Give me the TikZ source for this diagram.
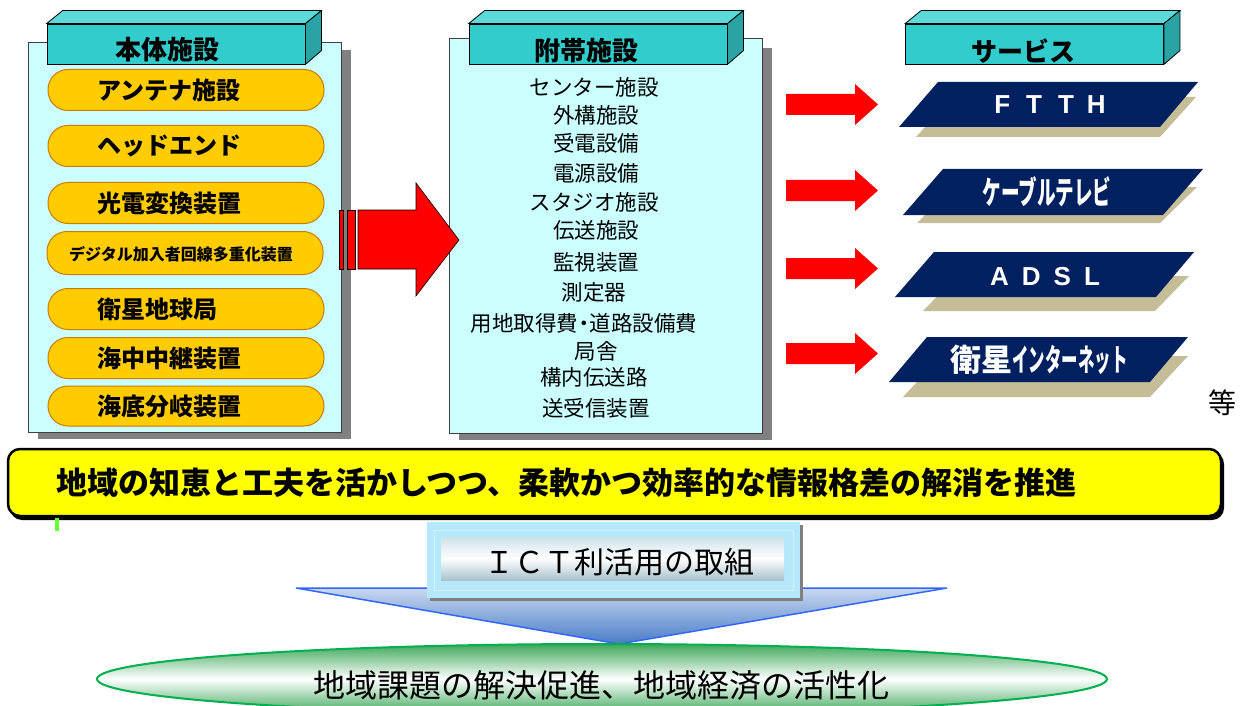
\documentclass[tikz,border=0pt]{standalone}
\usepackage{fontspec}
\usepackage{graphicx}
\setmainfont{Noto Sans CJK JP}
\newfontfamily\lat{Liberation Sans}
\usetikzlibrary{shapes.geometric,calc}
\definecolor{panelbg}{HTML}{CCFFFF}
\definecolor{panelline}{HTML}{404040}
\definecolor{shadowgray}{HTML}{808080}
\definecolor{hdrfrontc}{HTML}{33CCCC}
\definecolor{hdrtopc}{HTML}{5CD9D9}
\definecolor{hdrsidec}{HTML}{29A3A3}
\definecolor{pillfill}{HTML}{FFCC00}
\definecolor{pillline}{HTML}{CC7A00}
\definecolor{navy}{HTML}{002060}
\definecolor{tan}{HTML}{C4BD97}
\definecolor{arrowred}{HTML}{FF0000}
\definecolor{banneryellow}{HTML}{FFFF00}
\definecolor{ictouter}{HTML}{B4E8FA}
\definecolor{ictframe}{HTML}{D2F2FD}
\definecolor{icttop}{HTML}{CFE2EA}
\definecolor{ictbot}{HTML}{A8C2CC}
\definecolor{tritop}{HTML}{C8D8F0}
\definecolor{tribot}{HTML}{4A7CC8}
\definecolor{triline}{HTML}{3366FF}
\definecolor{ellgreen}{HTML}{3FA85A}
\definecolor{ellline}{HTML}{00B050}
\definecolor{markgreen}{HTML}{66FF33}
\newcommand\smallredarrow[1]{%
  \fill[arrowred] (786,#1-10.5) -- (855,#1-10.5) -- (855,#1-20.5) -- (878,#1)
    -- (855,#1+20.5) -- (855,#1+10.5) -- (786,#1+10.5) -- cycle;}
\newcommand\hdrbox[2]{%
  \node[hdrfront] (#1) at (#2,44) {};
  \filldraw[fill=hdrtopc,draw=black,line width=0.8] (#1.north west) -- ++(16,-13)
    -- ($(#1.north east)+(16,-13)$) -- (#1.north east) -- cycle;
  \filldraw[fill=hdrsidec,draw=black,line width=0.8] (#1.north east) -- ++(16,-13)
    -- ++(0,40) -- (#1.south east) -- cycle;}
\begin{document}
\begin{tikzpicture}[x=1pt,y=-1pt,
  panel/.style={draw=panelline, fill=panelbg, line width=0.8, anchor=north west, inner sep=0},
  hdrfront/.style={draw=black, fill=hdrfrontc, line width=0.8, minimum width=258, minimum height=40, inner sep=0},
  hdrtxt/.style={font=\fontsize{26}{26}\selectfont\bfseries},
  pill/.style={draw=pillline, fill=pillfill, rounded corners=20, minimum width=276, minimum height=41, line width=1, inner sep=0},
  pilltxt/.style={anchor=west, inner sep=0, font=\fontsize{24}{24}\selectfont\bfseries},
  listtxt/.style={inner sep=0, font=\fontsize{21.5}{21.5}\selectfont},
  svctxt/.style={inner sep=0, text=white, font=\fontsize{26}{26}\selectfont\bfseries}
]
\useasboundingbox (0,0) rectangle (1248,706);
\fill[white] (0,0) rectangle (1248,706);

% ---------- left panel ----------
\fill[shadowgray] (38,50) rectangle (351,439);
\node[panel, minimum width=313, minimum height=390] (p1) at (28,42) {};
\hdrbox{h1}{176}
\node[hdrtxt] (h1t) at (167,50) {本体施設};

\node[pill] (a1) at (186,90) {};
\node[pilltxt] (a1t) at (97,90) {アンテナ施設};
\node[pill] (a2) at (186,146) {};
\node[pilltxt] (a2t) at (97,146) {ヘッドエンド};
\node[pill] (a3) at (186,203) {};
\node[pilltxt] (a3t) at (97,203) {光電変換装置};
\node[pill, minimum height=43] (a4) at (185,253) {};
\node[inner sep=0, font=\fontsize{16}{16}\selectfont\bfseries] (a4t) at (181,254) {デジタル加入者回線多重化装置};
\node[pill] (a5) at (186,309) {};
\node[pilltxt] (a5t) at (97,309) {衛星地球局};
\node[pill] (a6) at (186,358) {};
\node[pilltxt] (a6t) at (97,358) {海中中継装置};
\node[pill, minimum height=40] (a7) at (186,406) {};
\node[pilltxt] (a7t) at (97,406) {海底分岐装置};

% ---------- middle panel ----------
\fill[shadowgray] (459,48) rectangle (772,440);
\node[panel, minimum width=313, minimum height=395] (p2) at (449,38) {};
\hdrbox{h2}{598}
\node[hdrtxt] (h2t) at (586,51) {附帯施設};

\node[listtxt] (b1) at (594,87) {センター施設};
\node[listtxt] (b2) at (596,115) {外構施設};
\node[listtxt] (b3) at (596,143) {受電設備};
\node[listtxt] (b4) at (596,173) {電源設備};
\node[listtxt] (b5) at (594,202) {スタジオ施設};
\node[listtxt] (b6) at (596,230) {伝送施設};
\node[listtxt] (b7) at (596,262) {監視装置};
\node[listtxt] (b8) at (594,292) {測定器};
\node[listtxt] (b9) at (584,323) {用地取得費\hspace{-5pt}・\hspace{-5pt}道路設備費};
\node[listtxt] (b10) at (596,351) {局舎};
\node[listtxt] (b11) at (594,377) {構内伝送路};
\node[listtxt] (b12) at (596,408) {送受信装置};

% ---------- big arrow ----------
\filldraw[fill=arrowred, draw=black, line width=0.6] (339,210) rectangle (343,269);
\filldraw[fill=arrowred, draw=black, line width=0.6] (347,210) rectangle (355,269);
\filldraw[fill=arrowred, draw=black, line width=0.6] (358,210) -- (416,210) -- (416,183)
  -- (459,240) -- (416,296) -- (416,269) -- (358,269) -- cycle;

% ---------- right column ----------
\hdrbox{h3}{1034.5}
\node[hdrtxt] (h3t) at (1023,51) {サービス};

\smallredarrow{104.5}
\smallredarrow{190.5}
\smallredarrow{268.5}
\smallredarrow{353.5}

\fill[tan] (916,137) -- (1160,137) -- (1196,97) -- (952,97) -- cycle;
\fill[navy] (899,127) -- (1160,127) -- (1198,82) -- (938,82) -- cycle;
\node[svctxt, font=\lat\fontsize{26}{26}\selectfont\bfseries] (s1) at (1050,105) {F\hspace{16pt}T\hspace{16pt}T\hspace{13pt}H};

\fill[tan] (917,223) -- (1160,223) -- (1197,187) -- (953,187) -- cycle;
\fill[navy] (903,215) -- (1163,215) -- (1203,169) -- (943,169) -- cycle;
\node[svctxt] (s2) at (1047,192) {\scalebox{0.58}[1]{\fontsize{32}{32}\selectfont\bfseries ケーブルテレビ}};

\fill[tan] (923,311) -- (1155,311) -- (1189,276) -- (957,276) -- cycle;
\fill[navy] (895,297) -- (1156,297) -- (1194,252) -- (934,252) -- cycle;
\node[svctxt, font=\lat\fontsize{26}{26}\selectfont\bfseries] (s3) at (1045,277) {A\hspace{13pt}D\hspace{13pt}S\hspace{13pt}L};

\fill[tan] (903,397) -- (1150,397) -- (1188,356) -- (941,356) -- cycle;
\fill[navy] (889,382) -- (1150,382) -- (1188,337) -- (927,337) -- cycle;
\node[svctxt] (s4) at (1039,360) {\fontsize{31}{31}\selectfont\bfseries 衛星\scalebox{0.53}[1]{インターネット}};

\node[inner sep=0, font=\fontsize{28}{28}\selectfont] (etc) at (1222,403) {等};

% ---------- banner ----------
\fill[black, rounded corners=12] (10,452) rectangle (1224,520);
\filldraw[fill=banneryellow, draw=black, line width=2.5, rounded corners=12] (8,449) rectangle (1221,516);
\node[anchor=west, inner sep=0, font=\fontsize{31}{31}\selectfont\bfseries] (ban) at (56,483) {地域の知恵と工夫を活かしつつ、柔軟かつ効率的な情報格差の解消を推進};
\fill[markgreen] (55,518) rectangle (59,531);

% ---------- triangle ----------
\coordinate (tl) at (296,588);
\coordinate (tr) at (947,588);
\coordinate (tip) at (619,644);
\shade[top color=tritop, bottom color=tribot] (tl) -- (tr) -- (tip) -- cycle;
\draw[triline, line width=1.5] (tl) -- (tr) -- (tip) -- cycle;

% ---------- ICT box ----------
\fill[shadowgray] (430,525) rectangle (803,601);
\fill[ictouter] (427,522) rectangle (800,598);
\draw[ictframe, line width=1] (434,530) rectangle (793,590);
\shade[top color=icttop, bottom color=ictbot, middle color=white] (441,537) rectangle (784,580);
\node[inner sep=0, font=\fontsize{30}{30}\selectfont] (ict) at (619,562) {ＩＣＴ利活用の取組};

% ---------- ellipse ----------
\node[ellipse, draw=ellline, line width=2, minimum width=1010, minimum height=70, inner sep=0,
  top color=ellgreen, bottom color=ellgreen, middle color=white] (ell) at (602,679) {};
\node[inner sep=0, font=\fontsize{32}{32}\selectfont] (ellt) at (601,685) {地域課題の解決促進、地域経済の活性化};
\end{tikzpicture}
\end{document}
